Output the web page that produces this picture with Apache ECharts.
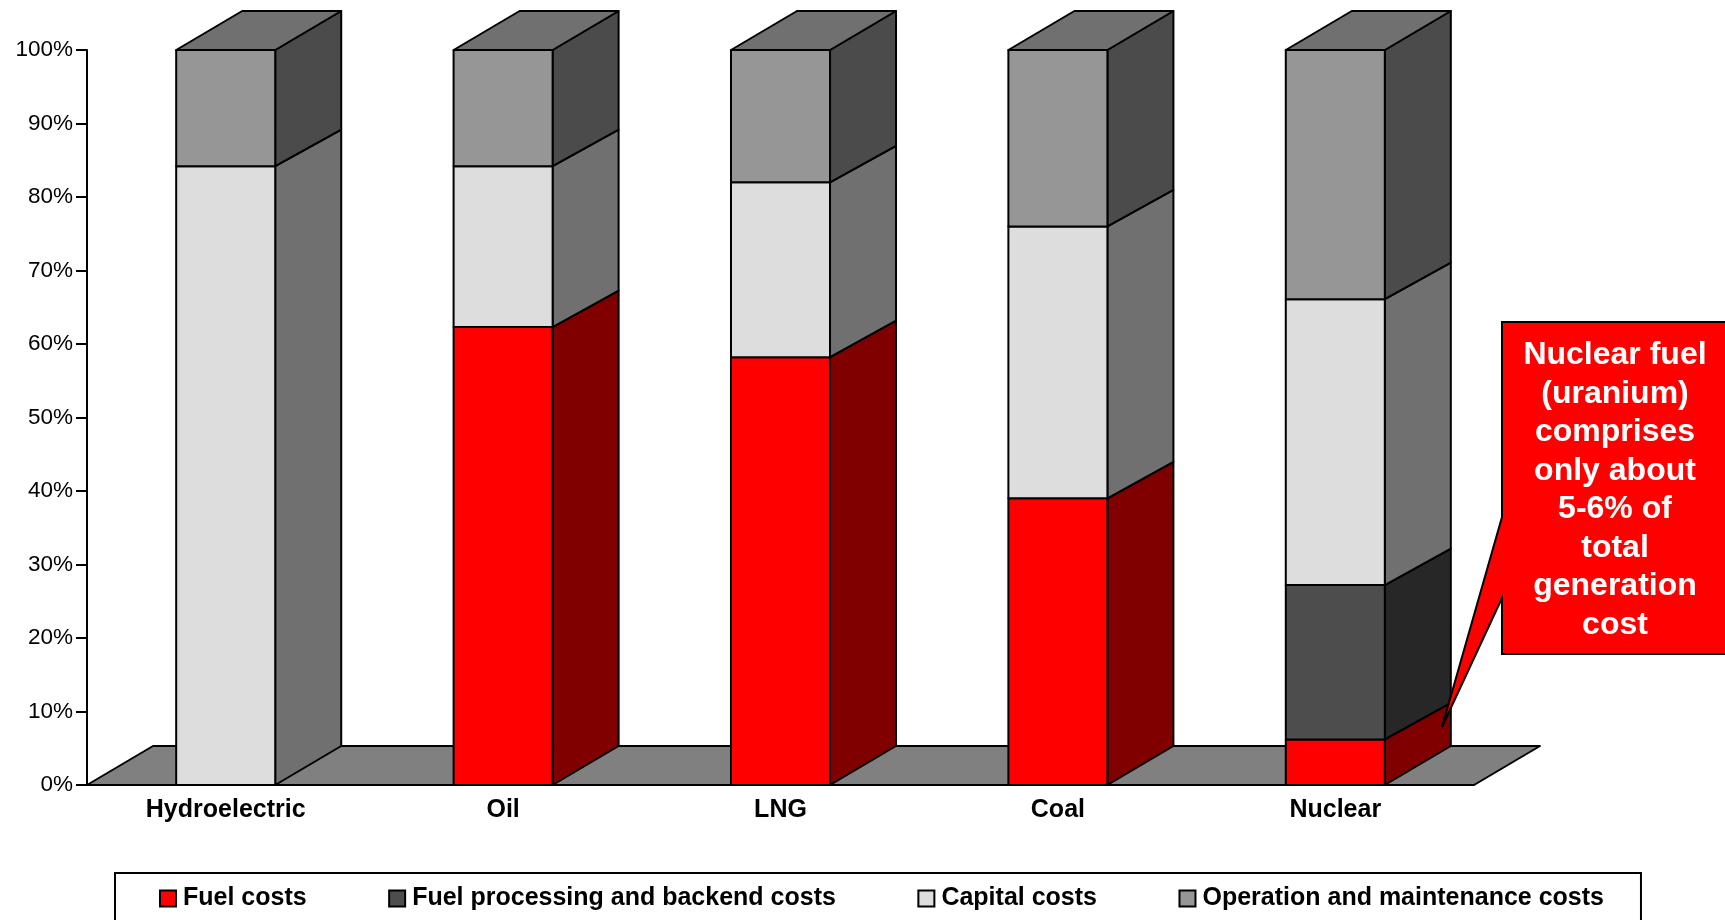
<!DOCTYPE html>
<html>
<head>
<meta charset="utf-8">
<style>html,body{margin:0;padding:0;background:#fff}#c{width:1725px;height:920px}</style>
<script src="https://cdn.jsdelivr.net/npm/echarts@6/dist/echarts.min.js"></script>
</head>
<body>
<div id="c"></div>
<script>
const categories = ['Hydroelectric', 'Oil', 'LNG', 'Coal', 'Nuclear'];
const fuelCosts = [0, 62.3, 58.2, 39, 6.2];
const processingCosts = [0, 0, 0, 0, 21];
const capitalCosts = [84.2, 21.9, 23.8, 37, 38.9];
const omCosts = [15.8, 15.8, 18, 24, 33.9];
const seriesNames = ['Fuel costs', 'Fuel processing and backend costs', 'Capital costs', 'Operation and maintenance costs'];
const calloutLines = ['Nuclear fuel', '(uranium)', 'comprises', 'only about', '5-6% of', 'total', 'generation', 'cost'];

const FONT = '"Liberation Sans", Arial, sans-serif';
const DX = 66, DY = 39, DY_INNER = 36.5;
const stroke = { stroke: '#000', lineWidth: 2, lineJoin: 'round' };

function poly(points, fill) {
  return { type: 'polygon', shape: { points }, style: Object.assign({ fill }, stroke) };
}

function segmentRenderer(front, side, withTop) {
  return function (params, api) {
    const i = api.value(0);
    const w = api.size([1, 0])[0] * 0.357;
    const c = api.coord([i, api.value(1)]);
    const t = api.coord([i, api.value(2)]);
    const l = c[0] - w / 2, r = c[0] + w / 2, b = c[1], u = t[1];
    const dyB = api.value(1) === 0 ? DY : DY_INNER;
    const dyT = api.value(2) > 99.9 ? DY : DY_INNER;
    const children = [
      poly([[r, b], [r + DX, b - dyB], [r + DX, u - dyT], [r, u]], side),
      poly([[l, b], [r, b], [r, u], [l, u]], front)
    ];
    if (withTop) children.push(poly([[l, u], [r, u], [r + DX, u - DY], [l + DX, u - DY]], '#707070'));
    return { type: 'group', children };
  };
}

function stackSeries(values, below, name, front, side, withTop) {
  const data = [];
  values.forEach((v, i) => {
    if (v > 0) {
      const base = below.reduce((s, arr) => s + arr[i], 0);
      data.push([i, base, base + v]);
    }
  });
  return {
    type: 'custom', name, data, clip: false, silent: true,
    itemStyle: { color: front },
    encode: { x: 0, y: [1, 2] },
    renderItem: segmentRenderer(front, side, withTop)
  };
}

const floorSeries = {
  type: 'custom', name: 'floor', data: [[0, 0]], clip: false, silent: true, z: 1,
  encode: { x: 0, y: 1 },
  renderItem: function (params) {
    const g = params.coordSys, b = g.y + g.height, l = g.x, r = g.x + g.width;
    return poly([[l, b], [r, b], [r + 66, b - DY], [l + 66, b - DY]], '#808080');
  }
};

const chart = echarts.init(document.getElementById('c'), null, { renderer: 'canvas' });
chart.setOption({
  animation: false,
  backgroundColor: '#fff',
  textStyle: { fontFamily: FONT },
  grid: { left: 87, right: 251, top: 50, bottom: 135, containLabel: false },
  xAxis: {
    type: 'category', data: categories, z: 5,
    axisLine: { show: true, lineStyle: { color: '#000', width: 2 } },
    axisTick: { show: false },
    axisLabel: { color: '#000', fontFamily: FONT, fontWeight: 'bold', fontSize: 25, margin: 12.5 }
  },
  yAxis: {
    type: 'value', min: 0, max: 100, interval: 10,
    splitLine: { show: false },
    axisLine: { show: true, lineStyle: { color: '#000', width: 2 } },
    axisTick: { show: true, length: 11, lineStyle: { color: '#000', width: 2 } },
    axisLabel: { color: '#000', fontFamily: FONT, fontSize: 22.5, margin: 14, padding: [2, 0, 0, 0], formatter: '{value}%' }
  },
  legend: {
    show: true, left: 115, top: 873, orient: 'horizontal',
    data: seriesNames,
    icon: 'rect', itemWidth: 16, itemHeight: 16, itemGap: 81.5,
    padding: [13, 37, 40, 44],
    borderColor: '#000', borderWidth: 2, backgroundColor: '#fff',
    itemStyle: { borderColor: '#000', borderWidth: 2 },
    textStyle: { color: '#000', fontFamily: FONT, fontWeight: 'bold', fontSize: 25, padding: [0, 0, 0, 2] },
    selectedMode: false
  },
  series: [
    floorSeries,
    stackSeries(fuelCosts, [], seriesNames[0], '#ff0000', '#800000', false),
    stackSeries(processingCosts, [fuelCosts], seriesNames[1], '#4d4d4d', '#272727', false),
    stackSeries(capitalCosts, [fuelCosts, processingCosts], seriesNames[2], '#dddddd', '#707070', false),
    stackSeries(omCosts, [fuelCosts, processingCosts, capitalCosts], seriesNames[3], '#969696', '#4b4b4b', true)
  ],
  graphic: [
    {
      type: 'polygon', z: 100, silent: true,
      shape: { points: [[1502, 322], [1730, 322], [1730, 654], [1502, 654], [1502, 598], [1442, 727], [1502, 517]] },
      style: { fill: '#ff0000', stroke: '#000', lineWidth: 2 }
    },
    {
      type: 'text', z: 101, silent: true, x: 1615, y: 336,
      style: {
        text: calloutLines.join('\n'), fill: '#fff', align: 'center', verticalAlign: 'top',
        font: 'bold 32px ' + FONT, lineHeight: 38.5
      }
    }
  ]
});
</script>
</body>
</html>
